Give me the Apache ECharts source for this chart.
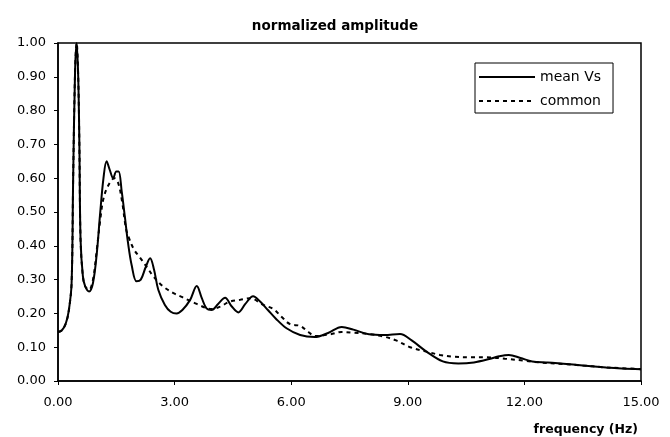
<!DOCTYPE html>
<html>
<head>
<meta charset="utf-8">
<script src="https://cdn.jsdelivr.net/npm/echarts@6/dist/echarts.min.js"></script>
<style>html,body{margin:0;padding:0;background:#fff}#c{width:670px;height:437px}</style>
</head>
<body>
<div id="c"></div>
<script>
var meanFreq = [0,0.1,0.2,0.28,0.35,0.39,0.44,0.48,0.52,0.55,0.58,0.64,0.7,0.8,0.9,1.0,1.08,1.17,1.25,1.33,1.42,1.5,1.56,1.64,1.72,1.8,1.9,2.02,2.13,2.25,2.37,2.47,2.58,2.75,2.9,3.05,3.2,3.4,3.57,3.7,3.82,3.95,4.12,4.3,4.46,4.64,4.82,5.02,5.2,5.4,5.6,5.88,6.23,6.6,6.95,7.3,7.6,8.0,8.4,8.8,9.1,9.48,9.9,10.3,10.7,11.1,11.35,11.6,11.9,12.2,12.6,13.0,13.5,14.1,14.5,15];
var meanVs = [0.145,0.15,0.17,0.21,0.29,0.6,0.92,1.0,0.9,0.7,0.42,0.31,0.28,0.265,0.29,0.38,0.49,0.6,0.65,0.625,0.6,0.62,0.62,0.56,0.486,0.41,0.34,0.295,0.3,0.335,0.363,0.33,0.27,0.225,0.205,0.2,0.21,0.24,0.281,0.245,0.215,0.21,0.228,0.246,0.222,0.203,0.228,0.251,0.235,0.21,0.185,0.156,0.136,0.13,0.142,0.16,0.152,0.138,0.136,0.139,0.12,0.087,0.058,0.052,0.055,0.065,0.073,0.077,0.068,0.058,0.055,0.051,0.046,0.04,0.037,0.035];
var commonFreq = [0,0.1,0.2,0.28,0.35,0.39,0.44,0.48,0.52,0.55,0.58,0.64,0.7,0.8,0.9,1.0,1.08,1.17,1.3,1.45,1.55,1.65,1.75,1.82,1.95,2.11,2.3,2.45,2.7,2.97,3.2,3.57,3.95,4.17,4.42,4.68,4.94,5.28,5.54,5.75,5.97,6.23,6.43,6.61,7.0,7.3,7.6,8.0,8.4,8.7,9.06,9.48,9.83,10.17,10.6,11.03,11.5,12,12.4,13,13.5,14,14.5,15];
var commonAmp = [0.145,0.15,0.17,0.21,0.29,0.6,0.92,1.0,0.9,0.7,0.42,0.31,0.28,0.27,0.3,0.39,0.47,0.54,0.58,0.6,0.585,0.53,0.45,0.425,0.39,0.365,0.335,0.31,0.28,0.26,0.248,0.228,0.213,0.22,0.235,0.24,0.245,0.225,0.213,0.19,0.168,0.163,0.146,0.133,0.138,0.145,0.143,0.139,0.131,0.12,0.1,0.087,0.077,0.072,0.07,0.07,0.066,0.06,0.055,0.05,0.046,0.041,0.038,0.035];
var seriesNames = ['mean Vs','common'];

function zip(a,b){return a.map(function(v,i){return [v,b[i]];});}
var chart = echarts.init(document.getElementById('c'));
var lbl = {fontFamily:'DejaVu Sans',fontSize:13,color:'#000'};
chart.setOption({
  animation:false,
  backgroundColor:'#fff',
  title:[
    {text:'normalized amplitude',left:'center',top:14,textStyle:{fontFamily:'DejaVu Sans',fontSize:13.5,fontWeight:'bold',color:'#000'}},
    {text:'frequency (Hz)',right:27,top:418,textStyle:{fontFamily:'DejaVu Sans',fontSize:12.5,fontWeight:'bold',color:'#000'}}
  ],
  grid:{left:58,right:29,top:43,bottom:56,show:true,borderColor:'#000',borderWidth:1.5,backgroundColor:'transparent'},
  legend:{
    orient:'vertical',left:475,top:63,padding:[7,12,5,3],itemGap:10,itemWidth:56,itemHeight:14,
    borderColor:'#000',borderWidth:1,backgroundColor:'#fff',
    itemStyle:{opacity:0,borderWidth:0},
    textStyle:{fontFamily:'DejaVu Sans',fontSize:14,color:'#000'},
    data:seriesNames
  },
  xAxis:{type:'value',min:0,max:15,interval:3,
    axisLine:{lineStyle:{color:'#000',width:1.5}},
    axisTick:{show:true,length:4,lineStyle:{color:'#000'}},
    splitLine:{show:false},
    axisLabel:Object.assign({margin:15,formatter:function(v){return v.toFixed(2);}},lbl)},
  yAxis:{type:'value',min:0,max:1,interval:0.1,
    axisLine:{show:true,lineStyle:{color:'#000',width:1.5}},
    axisTick:{show:true,length:4,lineStyle:{color:'#000'}},
    splitLine:{show:false},
    axisLabel:Object.assign({margin:12,formatter:function(v){return v.toFixed(2);}},lbl)},
  series:[
    {name:seriesNames[0],type:'line',data:zip(meanFreq,meanVs),smooth:0.35,symbol:'none',
     lineStyle:{color:'#000',width:2},itemStyle:{color:'#000'},clip:true},
    {name:seriesNames[1],type:'line',data:zip(commonFreq,commonAmp),smooth:0.35,symbol:'none',
     lineStyle:{color:'#000',width:2,type:[4,4]},itemStyle:{color:'#000'},clip:true}
  ]
});
</script>
</body>
</html>
